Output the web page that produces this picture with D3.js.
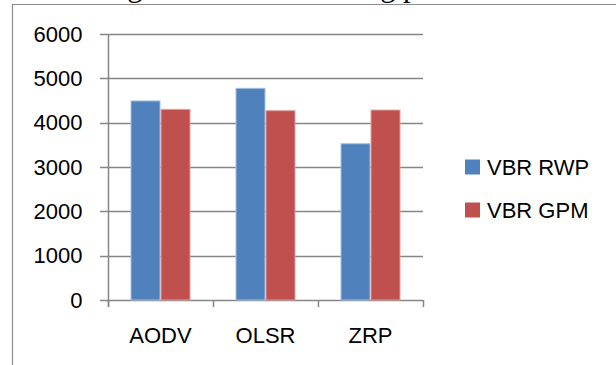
<!DOCTYPE html>
<html>
<head>
<meta charset="utf-8">
<script src="https://cdn.jsdelivr.net/npm/d3@7"></script>
<style>
  html, body { margin: 0; padding: 0; background: #fff; }
  svg { display: block; }
</style>
</head>
<body>
<svg id="chart" width="616" height="365"></svg>
<script>
// data
const categories = ['AODV', 'OLSR', 'ZRP'];
const seriesNames = ['VBR RWP', 'VBR GPM'];
const rwpValues = [4490, 4775, 3525];
const gpmValues = [4300, 4270, 4285];
const yTicks = [0, 1000, 2000, 3000, 4000, 5000, 6000];
const seriesColors = ['#4F81BD', '#C0504D'];
const seriesStrokes = ['#A7C0DE', '#DDA09E'];

const rows = categories.map((c, i) => ({ cat: c, values: [rwpValues[i], gpmValues[i]] }));

const svg = d3.select('#chart');
const font = "'Liberation Sans', Arial, sans-serif";

// caption line of the page above the chart, cut off
const cap = svg.append('text')
  .attr('x', 0).attr('y', -4)
  .style('font-family', "'Liberation Serif', 'Times New Roman', serif")
  .style('font-size', '30px')
  .attr('fill', '#000')
  .text('among the different routing protocols');
{
  const node = cap.node();
  const s = node.textContent;
  const g1 = s.indexOf('g');
  const g2 = s.indexOf('g', g1 + 1);
  const c1 = node.getExtentOfChar(g1), c2 = node.getExtentOfChar(g2);
  const d = (c2.x + c2.width / 2) - (c1.x + c1.width / 2);
  const fs = 30 * 253 / d;
  cap.style('font-size', fs + 'px');
  const c1b = node.getExtentOfChar(g1);
  cap.attr('x', 135 - (c1b.x + c1b.width / 2));
}

// outer chart frame
svg.append('line').attr('x1', 12).attr('x2', 616).attr('y1', 4.5).attr('y2', 4.5)
  .attr('stroke', '#8c8c8c').attr('stroke-width', 1.2);
svg.append('line').attr('x1', 12.5).attr('x2', 12.5).attr('y1', 4).attr('y2', 365)
  .attr('stroke', '#8c8c8c').attr('stroke-width', 1.2);

// scales
const x0 = d3.scaleBand().domain(categories).range([108, 423]).paddingInner(0).paddingOuter(0);
const x1 = d3.scaleBand().domain(d3.range(seriesNames.length)).range([0, x0.bandwidth()])
  .paddingInner(0).paddingOuter(0.75);
const y = d3.scaleLinear().domain([0, 6000]).range([300, 34]);

const gridColor = '#868686';

// gridlines
svg.append('g').selectAll('line').data(yTicks).join('line')
  .attr('x1', 100).attr('x2', 423)
  .attr('y1', d => Math.round(y(d)) + 0.5).attr('y2', d => Math.round(y(d)) + 0.5)
  .attr('stroke', gridColor).attr('stroke-width', 1.5);

// y axis
const yAxis = svg.append('g').attr('transform', 'translate(108.5,0)')
  .call(d3.axisLeft(y).tickValues(yTicks).tickSize(0).tickPadding(26).tickFormat(d3.format('d')));
yAxis.select('.domain').remove();
yAxis.selectAll('text').style('font-family', font).style('font-size', '22px').attr('fill', '#000');
svg.append('line').attr('x1', 108.5).attr('x2', 108.5).attr('y1', y(6000)).attr('y2', 307)
  .attr('stroke', gridColor).attr('stroke-width', 1.5);

// x axis tick marks at category boundaries
const bounds = categories.map(c => x0(c)).concat([x0(categories[categories.length - 1]) + x0.bandwidth()]);
svg.append('g').selectAll('line').data(bounds).join('line')
  .attr('x1', d => Math.round(d) + 0.5).attr('x2', d => Math.round(d) + 0.5)
  .attr('y1', 300).attr('y2', 307)
  .attr('stroke', gridColor).attr('stroke-width', 1.5);

// bars
const groups = svg.append('g').selectAll('g').data(rows).join('g')
  .attr('transform', d => `translate(${x0(d.cat)},0)`);
groups.selectAll('rect').data(d => d.values.map((v, i) => ({ v, i }))).join('rect')
  .attr('x', d => x1(d.i) + 0.5)
  .attr('y', d => y(d.v))
  .attr('width', x1.bandwidth() - 1)
  .attr('height', d => y(0) - y(d.v))
  .attr('fill', d => seriesColors[d.i])
  .attr('stroke', d => seriesStrokes[d.i])
  .attr('stroke-width', 1);

// category labels
svg.append('g').selectAll('text').data(categories).join('text')
  .attr('x', d => x0(d) + x0.bandwidth() / 2)
  .attr('y', 343)
  .attr('text-anchor', 'middle')
  .style('font-family', font).style('font-size', '22px')
  .attr('fill', '#000')
  .text(d => d);

// legend
const legend = svg.append('g').selectAll('g').data(seriesNames).join('g')
  .attr('transform', (d, i) => `translate(465,${167 + i * 43})`);
legend.append('rect')
  .attr('x', 0).attr('y', -7.5).attr('width', 15).attr('height', 15)
  .attr('fill', (d, i) => seriesColors[i]);
legend.append('text')
  .attr('x', 22).attr('y', 0).attr('dy', '0.36em')
  .style('font-family', font).style('font-size', '22px')
  .attr('fill', '#000')
  .text(d => d);
</script>
</body>
</html>
